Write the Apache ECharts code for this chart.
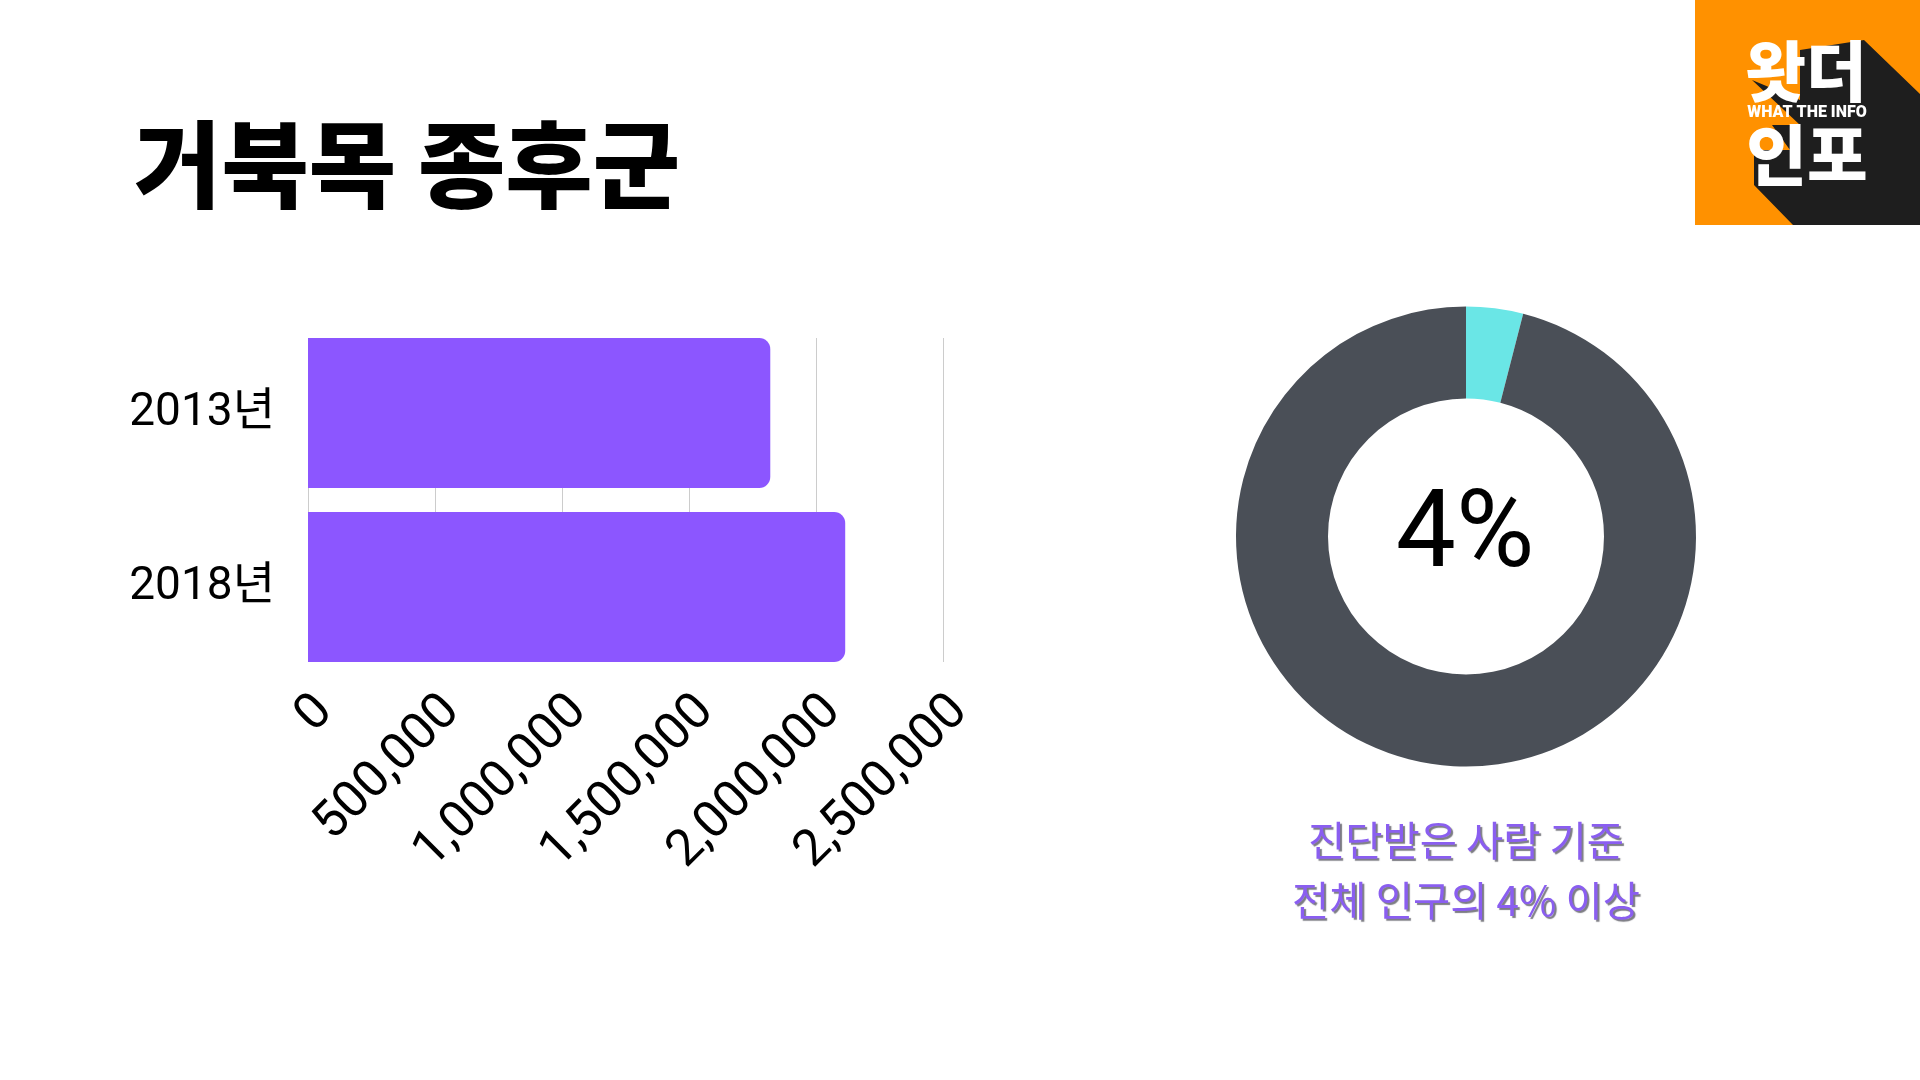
<!DOCTYPE html>
<html><head><meta charset="utf-8">
<style>html,body{margin:0;padding:0;background:#fff}#c{width:1920px;height:1080px}</style>
<script src="https://cdn.jsdelivr.net/npm/echarts@6/dist/echarts.min.js"></script>
</head><body><div id="c"></div>
<script>
const categories = ['2013년', '2018년'];
const patientCounts = [1820000, 2115000];
const xTicks = [0, 500000, 1000000, 1500000, 2000000, 2500000];
const shareLabels = ['진단받은 사람', '그 외'];
const shareValues = [4, 96];
const heading = '거북목 종후군';
const centerText = '4%';
const captionLines = ['진단받은 사람 기준', '전체 인구의 4% 이상'];
const KR = '"Noto Sans CJK KR"';
const captionStyle = {fontFamily: KR, fontSize: 40.5, fontWeight: 400, color: '#8a5ef0', textShadowColor: 'rgba(80,80,90,.75)', textShadowOffsetX: 2, textShadowOffsetY: 2, textShadowBlur: 1};
const xMax = xTicks[xTicks.length - 1];

const chart = echarts.init(document.getElementById('c'), null, {renderer: 'canvas'});
chart.setOption({
  backgroundColor: '#fff',
  animation: false,
  title: [
    {text: heading, padding: 0, left: 134, top: 117, textStyle: {fontFamily: KR, fontSize: 95, fontWeight: 900, color: '#000'}},
    {text: centerText, padding: 0, left: 1465, top: 486, textAlign: 'center', textStyle: {fontFamily: 'Roboto', fontSize: 107, fontWeight: 400, color: '#000'}},
    {text: captionLines[0], padding: 0, left: 1466, top: 820, textAlign: 'center', textStyle: captionStyle},
    {text: captionLines[1], padding: 0, left: 1466, top: 880, textAlign: 'center', textStyle: captionStyle}
  ],
  grid: [
    {left: 308, width: 635, top: 338, height: 324},
    {left: 308, width: 635, top: 326, height: 348},
    {left: 325, width: 635, top: 338, height: 324}
  ],
  xAxis: [
    {gridIndex: 0, type: 'value', min: 0, max: xMax, interval: xTicks[1],
     axisLine: {show: false}, axisTick: {show: false}, axisLabel: {show: false},
     splitLine: {show: true, lineStyle: {color: '#cccccc', width: 1}}},
    {gridIndex: 1, type: 'value', min: 0, max: xMax, interval: xTicks[1], show: false},
    {gridIndex: 2, type: 'value', min: 0, max: xMax, interval: xTicks[1],
     axisLine: {show: false}, axisTick: {show: false}, splitLine: {show: false},
     axisLabel: {rotate: 45, margin: 42, fontFamily: 'Roboto', fontSize: 51, fontWeight: 400, color: '#000',
                 formatter: v => v.toLocaleString('en-US')}}
  ],
  yAxis: [
    {gridIndex: 0, type: 'category', data: categories, inverse: true, show: false},
    {gridIndex: 1, type: 'category', data: categories, inverse: true,
     axisLine: {show: false}, axisTick: {show: false}, splitLine: {show: false},
     axisLabel: {margin: 33, fontFamily: 'Roboto, "Noto Sans CJK KR"', fontSize: 46, fontWeight: 400, color: '#000', padding: [0, 0, 6, 0]}},
    {gridIndex: 2, type: 'category', data: categories, inverse: true, show: false}
  ],
  series: [
    {type: 'bar', xAxisIndex: 1, yAxisIndex: 1, data: patientCounts, barWidth: 150,
     itemStyle: {color: '#8c56ff', borderRadius: [0, 11, 11, 0]}, silent: true},
    {type: 'pie', center: [1466, 536.5], radius: [138, 230], startAngle: 90, clockwise: true, silent: true,
     label: {show: false}, labelLine: {show: false},
     data: [
       {name: shareLabels[0], value: shareValues[0], itemStyle: {color: '#6ae6e6'}},
       {name: shareLabels[1], value: shareValues[1], itemStyle: {color: '#4a4f57'}}
     ]}
  ],
  graphic: [
    {type: 'rect', z: 10, shape: {x: 1695, y: 0, width: 225, height: 225}, style: {fill: '#ff9100'}},
    {type: 'polygon', z: 11, shape: {points: [[1864,40],[1920,94],[1920,225],[1793,225],[1754,185],[1754,150],[1790,150],[1772,125],[1800,125],[1752,80],[1800,100],[1800,50]]}, style: {fill: '#1e1e1e'}},
    {type: 'text', z: 12, style: {x: 1806, y: 71, text: '왓더', align: 'center', verticalAlign: 'middle', fill: '#fff', font: '900 66px "Noto Sans CJK KR"'}},
    {type: 'text', z: 12, style: {x: 1807, y: 113, text: 'WHAT THE INFO', align: 'center', verticalAlign: 'middle', fill: '#fff', font: '900 16px Roboto'}},
    {type: 'text', z: 12, style: {x: 1807, y: 155, text: '인포', align: 'center', verticalAlign: 'middle', fill: '#fff', font: '900 66px "Noto Sans CJK KR"'}}
  ]
});
</script></body></html>
